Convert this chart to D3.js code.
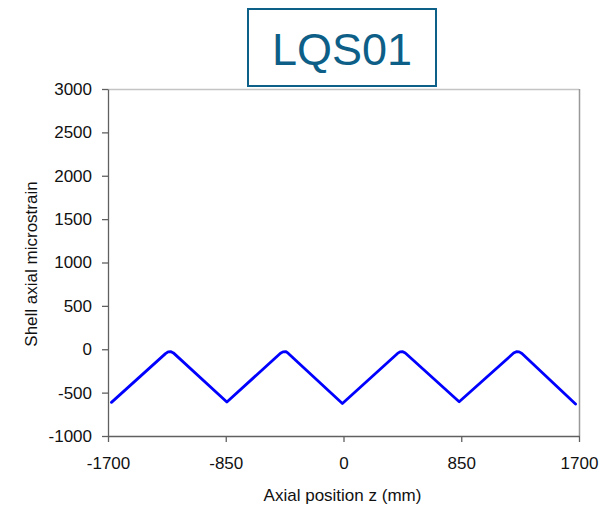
<!DOCTYPE html>
<html><head><meta charset="utf-8">
<script src="https://cdn.jsdelivr.net/npm/d3@7"></script>
<style>
html,body{margin:0;padding:0;background:#fff;}
svg{display:block;font-family:"Liberation Sans",Arial,sans-serif;}
</style></head>
<body><svg id="c" width="615" height="510"></svg>
<script>
const titleText = "LQS01";
const xTicks = [-1700, -850, 0, 850, 1700];
const yTicks = [-1000, -500, 0, 500, 1000, 1500, 2000, 2500, 3000];
const xLabel = "Axial position z (mm)";
const yLabel = "Shell axial microstrain";
const zPos = [-1675, -1285, -1266, -1245, -1228, -842, -455, -437, -415, -398, -8,
              390, 408, 428, 446, 835, 1228, 1248, 1268, 1288, 1675];
const strain = [-612, -50, -30, -28, -42, -608, -46, -30, -28, -48, -626,
                -48, -30, -28, -44, -606, -44, -28, -30, -48, -632];

const svg = d3.select("#c");
const L = 108, R = 579, T = 89, B = 436;
const x = d3.scaleLinear().domain([-1700, 1700]).range([L, R]);
const y = d3.scaleLinear().domain([-1000, 3000]).range([B, T]);
const fmt = d => String(d);

// title box
svg.append("rect").attr("x", 248).attr("y", 9).attr("width", 188).attr("height", 77)
  .attr("fill", "#fff").attr("stroke", "#0d6189").attr("stroke-width", 2);
svg.append("text").attr("x", 342).attr("y", 65).attr("text-anchor", "middle")
  .attr("font-size", 45).attr("fill", "#0d5f88").text(titleText);

// frame top/right
svg.append("line").attr("x1", L).attr("x2", R).attr("y1", T+0.5).attr("y2", T+0.5)
  .attr("stroke", "#c4c4c4").attr("stroke-width", 1.5);
svg.append("line").attr("x1", R+0.5).attr("x2", R+0.5).attr("y1", T).attr("y2", B)
  .attr("stroke", "#999").attr("stroke-width", 1.5);

// axes
const xAxis = d3.axisBottom(x).tickValues(xTicks).tickFormat(fmt).tickSize(6).tickSizeOuter(0).tickPadding(10);
const yAxis = d3.axisLeft(y).tickValues(yTicks).tickFormat(fmt).tickSize(6).tickSizeOuter(0).tickPadding(10);
const gx = svg.append("g").attr("transform", `translate(0,${B})`).call(xAxis);
const gy = svg.append("g").attr("transform", `translate(${L},0)`).call(yAxis);
[gx, gy].forEach(g => {
  g.selectAll("path,line").attr("stroke", "#606060").attr("stroke-width", 1.3);
  g.selectAll("text").attr("font-size", 17).attr("fill", "#111")
    .attr("font-family", "Liberation Sans, Arial, sans-serif");
});
gx.selectAll("text").attr("dy", "1em");

// axis titles
svg.append("text").attr("x", (L+R)/2 - 1).attr("y", 501).attr("text-anchor", "middle")
  .attr("font-size", 17).attr("fill", "#111").text(xLabel);
svg.append("text").attr("transform", "translate(37,264) rotate(-90)").attr("text-anchor", "middle")
  .attr("font-size", 17).attr("fill", "#111").text(yLabel);

// line
const data = zPos.map((z, i) => [z, strain[i]]);
svg.append("path").datum(data)
  .attr("fill", "none").attr("stroke", "#0000ff").attr("stroke-width", 2.8)
  .attr("stroke-linejoin", "round").attr("stroke-linecap", "round")
  .attr("d", d3.line().x(d => x(d[0])).y(d => y(d[1])));
</script></body></html>
